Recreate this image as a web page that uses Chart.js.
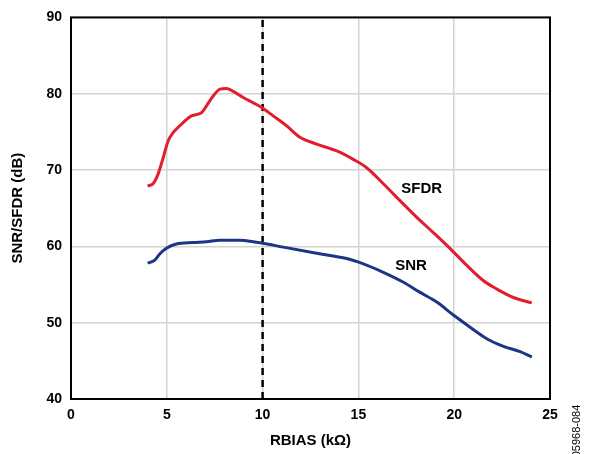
<!DOCTYPE html>
<html>
<head>
<meta charset="utf-8">
<script src="https://cdn.jsdelivr.net/npm/chart.js@4.4.1/dist/chart.umd.min.js"></script>
<style>
html,body{margin:0;padding:0;background:#fff;}
#wrap{position:relative;width:616px;height:454px;}
</style>
</head>
<body>
<div id="wrap"><canvas id="c" width="616" height="454"></canvas></div>
<script>
// RBIAS (kΩ) sample positions and values
const sfdrX = [4.0,4.28,4.55,4.81,5.07,5.33,5.68,6.29,6.81,7.07,7.42,7.77,8.12,8.46,8.99,9.51,9.95,10.55,11.25,11.95,12.82,13.87,14.73,15.43,16.3,17.17,18.05,18.91,19.79,20.66,21.53,22.23,23.09,24.05];
const sfdrY = [67.9,68.2,69.5,71.6,73.8,74.9,75.8,77.1,77.5,78.4,79.7,80.6,80.7,80.3,79.5,78.8,78.2,77.1,75.8,74.3,73.4,72.5,71.4,70.3,68.2,66.0,63.8,61.8,59.7,57.5,55.5,54.4,53.3,52.6];
const snrX = [4.0,4.37,4.63,4.98,5.5,6.37,7.07,7.77,8.81,9.51,10.03,11.08,12.82,14.39,15.26,16.3,17.35,18.2,19.09,19.96,20.83,21.7,22.57,23.44,24.05];
const snrY = [57.8,58.2,59.0,59.75,60.3,60.5,60.6,60.8,60.8,60.6,60.4,59.9,59.1,58.4,57.7,56.6,55.3,54.0,52.7,51.0,49.4,47.9,46.9,46.2,45.5];
const markerX = [10, 10];
const markerY = [40, 90];
const xTicks = [0, 5, 10, 15, 20, 25];
const yTicks = [40, 50, 60, 70, 80, 90];
const seriesLabels = [
  {text: 'SFDR', x: 18.3, y: 67.5},
  {text: 'SNR', x: 17.75, y: 57.4}
];

const pts = (xs, ys) => xs.map((x, i) => ({x: x, y: ys[i]}));
const FONT = '"Liberation Sans", Arial, sans-serif';

const boxPlugin = {
  id: 'box',
  afterDatasetsDraw(chart) {
    const {ctx, chartArea: a, scales} = chart;
    ctx.save();
    ctx.strokeStyle = '#000';
    ctx.lineWidth = 2;
    ctx.strokeRect(a.left, a.top, a.right - a.left, a.bottom - a.top);
    ctx.fillStyle = '#000';
    ctx.font = 'bold 15px ' + FONT;
    ctx.textAlign = 'center';
    ctx.textBaseline = 'middle';
    seriesLabels.forEach(l => {
      ctx.fillText(l.text, scales.x.getPixelForValue(l.x), scales.y.getPixelForValue(l.y));
    });
    ctx.restore();
  },
  afterDraw(chart) {
    const {ctx} = chart;
    ctx.save();
    ctx.translate(577, 431);
    ctx.rotate(-Math.PI / 2);
    ctx.font = '11px ' + FONT;
    ctx.fillStyle = '#000';
    ctx.textAlign = 'center';
    ctx.textBaseline = 'middle';
    ctx.fillText('05968-084', 0, 0);
    ctx.restore();
  }
};

new Chart(document.getElementById('c'), {
  type: 'line',
  data: {
    datasets: [
      {label: 'SFDR', data: pts(sfdrX, sfdrY), borderColor: 'rgb(226,30,46)', borderWidth: 3, pointRadius: 0, tension: 0.4, cubicInterpolationMode: 'monotone', fill: false},
      {label: 'SNR', data: pts(snrX, snrY), borderColor: 'rgb(28,54,134)', borderWidth: 3, pointRadius: 0, tension: 0.4, cubicInterpolationMode: 'monotone', fill: false},
      {label: 'marker', data: pts(markerX, markerY), borderColor: '#000', borderWidth: 2.5, borderDash: [7, 5], pointRadius: 0, tension: 0, fill: false}
    ]
  },
  options: {
    responsive: false,
    animation: false,
    layout: {padding: {top: 16, right: 66, left: 0, bottom: 0}},
    plugins: {legend: {display: false}, tooltip: {enabled: false}},
    scales: {
      x: {
        type: 'linear', min: 0, max: 25,
        afterBuildTicks: s => { s.ticks = xTicks.map(v => ({value: v})); },
        afterFit: s => { s.height = 55; },
        grid: {color: '#d3d3d3', lineWidth: 1.5, drawTicks: false},
        border: {display: false},
        ticks: {color: '#000', padding: 8, font: {family: FONT, weight: 'bold', size: 14}},
        title: {display: true, text: 'RBIAS (kΩ)', color: '#000', padding: {top: 6}, font: {family: FONT, weight: 'bold', size: 15}}
      },
      y: {
        type: 'linear', min: 40, max: 90,
        afterBuildTicks: s => { s.ticks = yTicks.map(v => ({value: v})); },
        afterFit: s => { s.width = 71; },
        grid: {color: '#d3d3d3', lineWidth: 1.5, drawTicks: false},
        border: {display: false},
        ticks: {color: '#000', padding: 9, font: {family: FONT, weight: 'bold', size: 14}},
        title: {display: true, text: 'SNR/SFDR (dB)', color: '#000', padding: {top: 9, bottom: 0}, font: {family: FONT, weight: 'bold', size: 15}}
      }
    }
  },
  plugins: [boxPlugin]
});
</script>
</body>
</html>
